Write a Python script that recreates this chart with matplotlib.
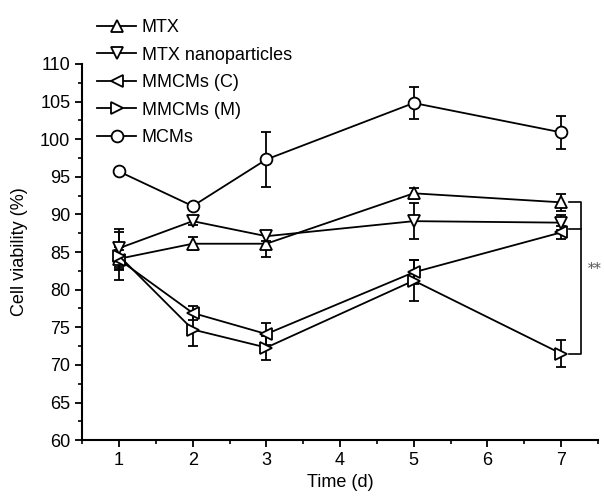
import matplotlib
matplotlib.use("Agg")
import matplotlib.pyplot as plt
from matplotlib.lines import Line2D
from matplotlib.ticker import MultipleLocator

plt.rcParams['font.family'] = ['Liberation Sans', 'DejaVu Sans']

days = [1, 2, 3, 5, 7]
labels = ["MTX", "MTX nanoparticles", "MMCMs (C)", "MMCMs (M)", "MCMs"]
markers = ["^", "v", "<", ">", "o"]

mtx = [84.1, 86.1, 86.1, 92.8, 91.6]
mtx_err = [1.5, 0.9, 1.7, 0.7, 1.1]
nano = [85.5, 89.1, 87.1, 89.1, 88.9]
nano_err = [2.5, 0.5, 0.6, 2.4, 1.0]
mmcm_c = [84.0, 76.9, 74.1, 82.3, 87.6]
mmcm_c_err = [1.2, 0.9, 1.4, 1.6, 0.9]
mmcm_m = [84.5, 74.7, 72.3, 81.2, 71.5]
mmcm_m_err = [3.2, 2.2, 1.6, 2.7, 1.8]
mcms = [95.7, 91.1, 97.3, 104.8, 100.9]
mcms_err = [0.3, 0.4, 3.6, 2.1, 2.2]

series = [(mtx, mtx_err), (nano, nano_err), (mmcm_c, mmcm_c_err),
          (mmcm_m, mmcm_m_err), (mcms, mcms_err)]

fig = plt.figure(figsize=(6.04, 5.03), dpi=100)
ax = fig.add_axes([0.136, 0.125, 0.854, 0.748])

handles = []
for (vals, errs), lab, mk in zip(series, labels, markers):
    style = dict(color="black", lw=1.3, marker=mk, markersize=8.5,
                 markerfacecolor="white", markeredgecolor="black",
                 markeredgewidth=1.3)
    ax.errorbar(days, vals, yerr=errs, capsize=3.5, capthick=1.3,
                elinewidth=1.3, **style)
    handles.append(Line2D([], [], **style))

# significance bracket between MTX and MMCMs (M) at day 7
bx0, bx1 = 7.11, 7.27
ax.plot([bx0, bx1, bx1, bx0], [mtx[-1], mtx[-1], mmcm_m[-1], mmcm_m[-1]],
        color="black", lw=1.2, clip_on=False)
ax.plot([bx0, bx1], [88.0, 88.0], color="black", lw=1.2, clip_on=False)
ax.text(7.45, 82.8, "**", fontsize=10, family="DejaVu Serif", color="#555555",
        ha="center", va="center", clip_on=False)

ax.set_xlim(0.5, 7.5)
ax.set_ylim(60, 110)
ax.xaxis.set_major_locator(MultipleLocator(1))
ax.xaxis.set_minor_locator(MultipleLocator(0.5))
ax.yaxis.set_major_locator(MultipleLocator(5))
ax.yaxis.set_minor_locator(MultipleLocator(2.5))
ax.tick_params(which="major", direction="out", length=5, width=1.3, labelsize=13)
ax.tick_params(which="minor", direction="out", length=3, width=1.2)
for s in ["top", "right"]:
    ax.spines[s].set_visible(False)
for s in ["left", "bottom"]:
    ax.spines[s].set_linewidth(1.5)

ax.set_xlabel("Time (d)", fontsize=13)
ax.set_ylabel("Cell viability (%)", fontsize=13, labelpad=9)

fig.legend(handles=handles, labels=labels, loc="upper left",
           bbox_to_anchor=(0.16, 0.962), frameon=False, fontsize=13,
           handlelength=2.2, handletextpad=0.3, labelspacing=0.58,
           borderpad=0, borderaxespad=0)

fig.savefig("out.png", dpi=100)
